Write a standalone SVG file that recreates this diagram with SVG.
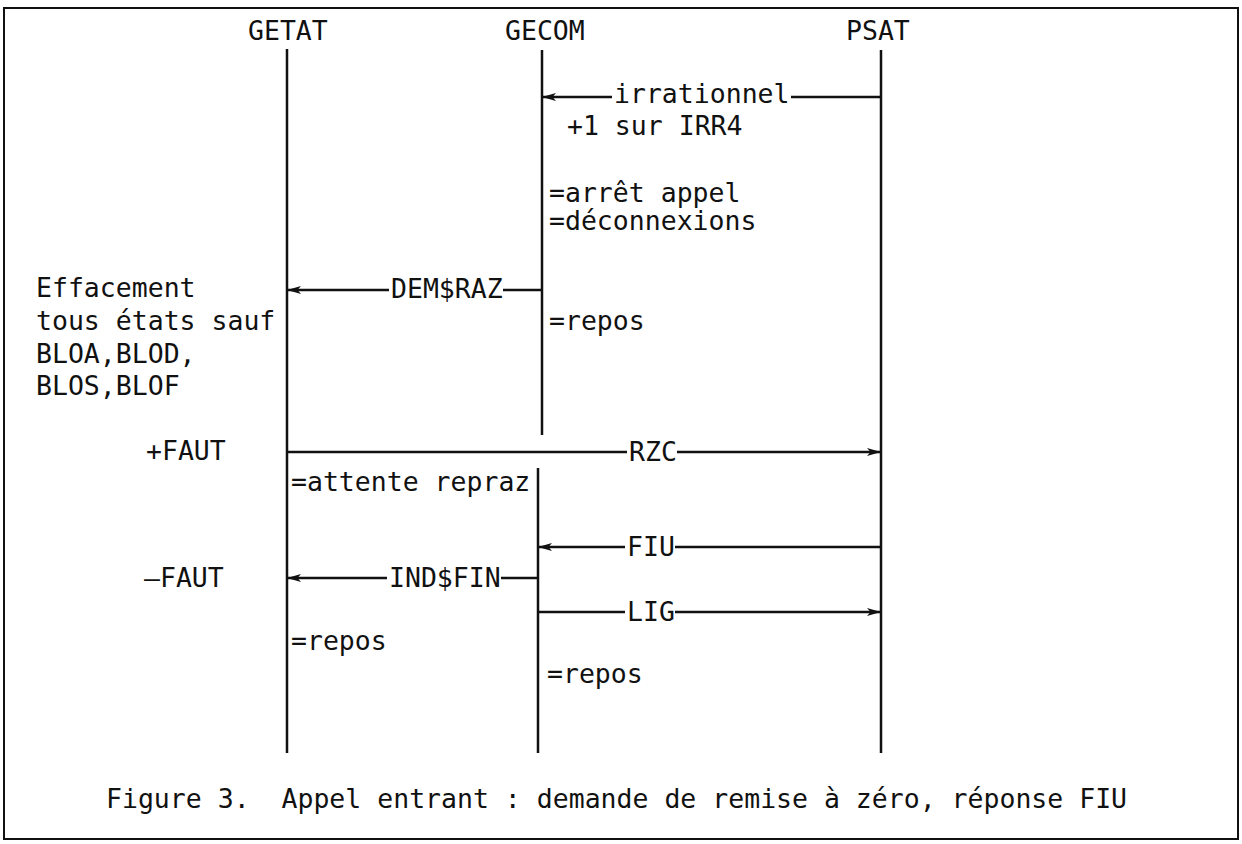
<svg xmlns="http://www.w3.org/2000/svg" width="1242" height="844" viewBox="0 0 1242 844">
  <style>
    text { font-family: "DejaVu Sans Mono", "Liberation Mono", monospace; font-size: 26.5px; fill: #111; }
    .life { stroke: #111; stroke-width: 2.5; fill: none; }
    .msg { stroke: #111; stroke-width: 2.5; fill: none; }
    .frame { stroke: #111; stroke-width: 2; fill: #fff; }
  </style>
  <defs>
    <marker id="ah" viewBox="0 0 14 10" refX="13" refY="5" markerWidth="14" markerHeight="10" markerUnits="userSpaceOnUse" orient="auto">
      <path d="M0,1 L14,5 L0,9 L3.5,5 Z" fill="#111"/>
    </marker>
  </defs>

  <rect class="frame" x="4" y="8" width="1234" height="831"/>

  <g id="node-getat">
    <text x="248" y="40">GETAT</text>
    <line class="life" x1="287" y1="49" x2="287" y2="753"/>
  </g>
  <g id="node-gecom">
    <text x="505" y="40">GECOM</text>
    <line class="life" x1="542" y1="50" x2="542" y2="435"/>
    <line class="life" x1="538" y1="468" x2="538" y2="753"/>
  </g>
  <g id="node-psat">
    <text x="846" y="40">PSAT</text>
    <line class="life" x1="881" y1="50" x2="881" y2="753"/>
  </g>

  <g id="connectors">
    <!-- irrationnel : PSAT -> GECOM -->
    <line class="msg" x1="612" y1="97" x2="543" y2="97" marker-end="url(#ah)"/>
    <line class="msg" x1="881" y1="97" x2="791" y2="97"/>
    <text x="614" y="103">irrationnel</text>
    <!-- DEM$RAZ : GECOM -> GETAT -->
    <line class="msg" x1="389" y1="290" x2="288" y2="290" marker-end="url(#ah)"/>
    <line class="msg" x1="542" y1="290" x2="503" y2="290"/>
    <text x="391" y="298">DEM$RAZ</text>
    <!-- RZC : GETAT -> PSAT -->
    <line class="msg" x1="287" y1="452" x2="627" y2="452"/>
    <line class="msg" x1="677" y1="452" x2="880" y2="452" marker-end="url(#ah)"/>
    <text x="629" y="461">RZC</text>
    <!-- FIU : PSAT -> GECOM -->
    <line class="msg" x1="625" y1="547" x2="539" y2="547" marker-end="url(#ah)"/>
    <line class="msg" x1="881" y1="547" x2="675" y2="547"/>
    <text x="627" y="556">FIU</text>
    <!-- IND$FIN : GECOM -> GETAT -->
    <line class="msg" x1="387" y1="578" x2="288" y2="578" marker-end="url(#ah)"/>
    <line class="msg" x1="538" y1="578" x2="501" y2="578"/>
    <text x="389" y="587">IND$FIN</text>
    <!-- LIG : GECOM -> PSAT -->
    <line class="msg" x1="538" y1="612" x2="625" y2="612"/>
    <line class="msg" x1="675" y1="612" x2="880" y2="612" marker-end="url(#ah)"/>
    <text x="627" y="621">LIG</text>
  </g>

  <g id="annotations">
    <text x="567" y="135">+1 sur IRR4</text>
    <text x="549" y="202">=arrêt appel</text>
    <text x="549" y="230">=déconnexions</text>
    <text x="549" y="330">=repos</text>
    <text x="36" y="297">Effacement</text>
    <text x="36" y="330">tous états sauf</text>
    <text x="36" y="363">BLOA,BLOD,</text>
    <text x="36" y="395">BLOS,BLOF</text>
    <text x="146" y="460">+FAUT</text>
    <text x="291" y="491">=attente repraz</text>
    <text x="144" y="587">–FAUT</text>
    <text x="291" y="650">=repos</text>
    <text x="547" y="683">=repos</text>
  </g>

  <text id="caption" x="106" y="808" xml:space="preserve">Figure 3.  Appel entrant : demande de remise à zéro, réponse FIU</text>
</svg>
